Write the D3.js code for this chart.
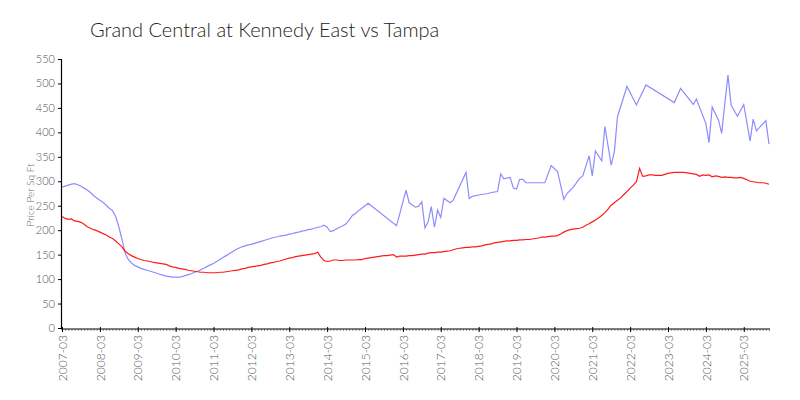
<!DOCTYPE html>
<html>
<head>
<meta charset="utf-8">
<script src="https://cdn.jsdelivr.net/npm/d3@7"></script>
<style>
  body { margin: 0; background: #fff; }
  svg { display: block; }
  text { font-family: Lato, "Open Sans", sans-serif; font-weight: 300; }
</style>
</head>
<body>
<svg id="chart" width="800" height="400"></svg>
<script>
// ---- data ----
const title = "Grand Central at Kennedy East vs Tampa";
const yLabel = "Price Per Sq Ft";
const startYear = 2007, startMonth = 3, monthCount = 225;
const months = [];
for (let i = 0; i < monthCount; i++) {
  const t = startMonth - 1 + i;
  const y = startYear + Math.floor(t / 12), m = (t % 12) + 1;
  months.push(y + "-" + String(m).padStart(2, "0"));
}
const yTicks = [0, 50, 100, 150, 200, 250, 300, 350, 400, 450, 500, 550];

// Tampa (red), monthly from 2007-03
const tampa = [
  228,224,222,223,219,218,216,212,207,204,201,199,
  196,193,190,186,183,178,172,166,157,152,148,145,
  142,140,138,137,136,134,133,132,131,130,127,125,
  124,122,121,120,118,117,116,115,114,114,113,113,
  113,113,114,114,115,116,117,118,119,121,122,124,
  125,126,127,128,130,131,133,134,136,137,139,141,
  143,144,146,147,148,149,150,151,152,155,145,138,
  136,137,139,139,138,138,139,139,139,139,140,140,
  142,143,144,145,146,147,148,148,149,150,145,147,
  147,147,148,148,149,150,151,151,153,154,154,155,
  155,156,157,158,160,162,163,164,165,165,166,166,
  167,168,170,171,172,174,175,176,177,178,178,179,
  179,180,180,181,181,182,183,184,186,186,187,188,
  188,189,192,196,199,201,202,203,204,206,210,213,
  217,221,225,230,236,243,251,256,261,266,273,279,
  286,292,299,326,310,311,313,313,312,312,312,314,
  316,317,318,318,318,318,317,316,315,314,310,313,
  312,313,309,311,310,308,309,308,308,307,307,308,
  306,303,300,299,298,297,297,296,294
];

// Grand Central at Kennedy East (blue), null = no sale that month
const gcke = [
  288,290,292,294,295,293,290,286,282,277,271,266,
  261,257,251,245,240,228,207,181,153,140,133,128,
  125,122,120,118,116,114,112,110,108,106,105,104,
  104,104,105,107,109,111,114,116,119,122,126,129,
  132,136,140,144,148,152,156,160,163,166,168,170,
  171,173,175,177,179,181,183,185,186,188,189,190,
  192,193,195,196,198,199,201,202,204,206,207,210,
  206,197,199,203,206,209,213,221,230,234,240,245,
  250,255,null,null,null,null,null,null,null,null,209,null,
  null,282,256,null,247,249,258,205,217,248,206,241,
  226,265,null,256,262,null,null,null,318,265,269,null,
  272,null,null,275,277,null,279,315,305,null,308,286,
  284,304,304,297,null,null,null,null,null,297,null,332,
  null,320,null,263,275,null,288,null,306,311,null,352,
  311,362,null,342,412,null,333,360,432,null,null,494,
  null,null,456,null,null,497,null,null,null,null,null,null,
  null,null,461,null,490,null,null,null,457,468,null,null,
  418,379,452,null,425,398,459,517,456,null,433,null,
  457,null,382,427,403,null,null,424,376
];

// ---- chart ----
const svg = d3.select("#chart");
const x = d3.scalePoint().domain(months).range([62, 769]);
const y = d3.scaleLinear().domain([0, 550]).range([328, 59]);

svg.append("text")
  .attr("x", 90).attr("y", 37)
  .attr("font-size", 20)
  .attr("fill", "#222")
  .text(title);

svg.append("text")
  .attr("transform", "translate(34,195) rotate(-90)")
  .attr("text-anchor", "middle")
  .attr("font-size", 10)
  .attr("fill", "#666")
  .text(yLabel);

// y axis
const yAxis = svg.append("g")
  .attr("transform", "translate(61,0)")
  .call(d3.axisLeft(y).tickValues(yTicks).tickSize(3).tickPadding(3));
yAxis.selectAll("text").attr("font-size", 11).attr("fill", "#555")
  .style("font-family", "Lato, sans-serif").style("font-weight", 300);
yAxis.select(".domain").attr("stroke", "#000").attr("stroke-width", 1.2);
yAxis.selectAll(".tick line").attr("stroke", "#000");

// x axis: minor monthly ticks
const xMinor = svg.append("g")
  .attr("transform", "translate(0,329)")
  .call(d3.axisBottom(x).tickValues(months).tickSize(2).tickFormat(""));
xMinor.select(".domain").remove();
xMinor.selectAll(".tick line").attr("stroke", "#999");

// x axis: major yearly ticks
const xMajor = svg.append("g")
  .attr("transform", "translate(0,329)")
  .call(d3.axisBottom(x).tickValues(months.filter((d, i) => i % 12 === 0))
        .tickSize(4).tickSizeOuter(0).tickPadding(3));
xMajor.select(".domain").attr("stroke", "#000").attr("stroke-width", 1.2)
  .attr("d", "M" + 61 + ",0H" + 770);
xMajor.selectAll(".tick line").attr("stroke", "#000").attr("y1", -2).attr("y2", 3);
xMajor.selectAll("text")
  .attr("font-size", 12).attr("fill", "#555")
  .style("font-family", "Lato, sans-serif").style("font-weight", 300)
  .attr("transform", "rotate(-90)")
  .attr("text-anchor", "end")
  .attr("x", -6).attr("y", 0).attr("dy", "0.35em");

// lines
const line = d3.line()
  .x(d => x(d.m))
  .y(d => y(d.v));

const redData = months.map((m, i) => ({ m, v: tampa[i] }));
const blueData = months.map((m, i) => ({ m, v: gcke[i] })).filter(d => d.v != null);

svg.append("path")
  .datum(blueData)
  .attr("fill", "none")
  .attr("stroke", "#8c8cff")
  .attr("stroke-width", 1.2)
  .attr("d", line);

svg.append("path")
  .datum(redData)
  .attr("fill", "none")
  .attr("stroke", "#ff1a1a")
  .attr("stroke-width", 1.2)
  .attr("d", line);
</script>
</body>
</html>
